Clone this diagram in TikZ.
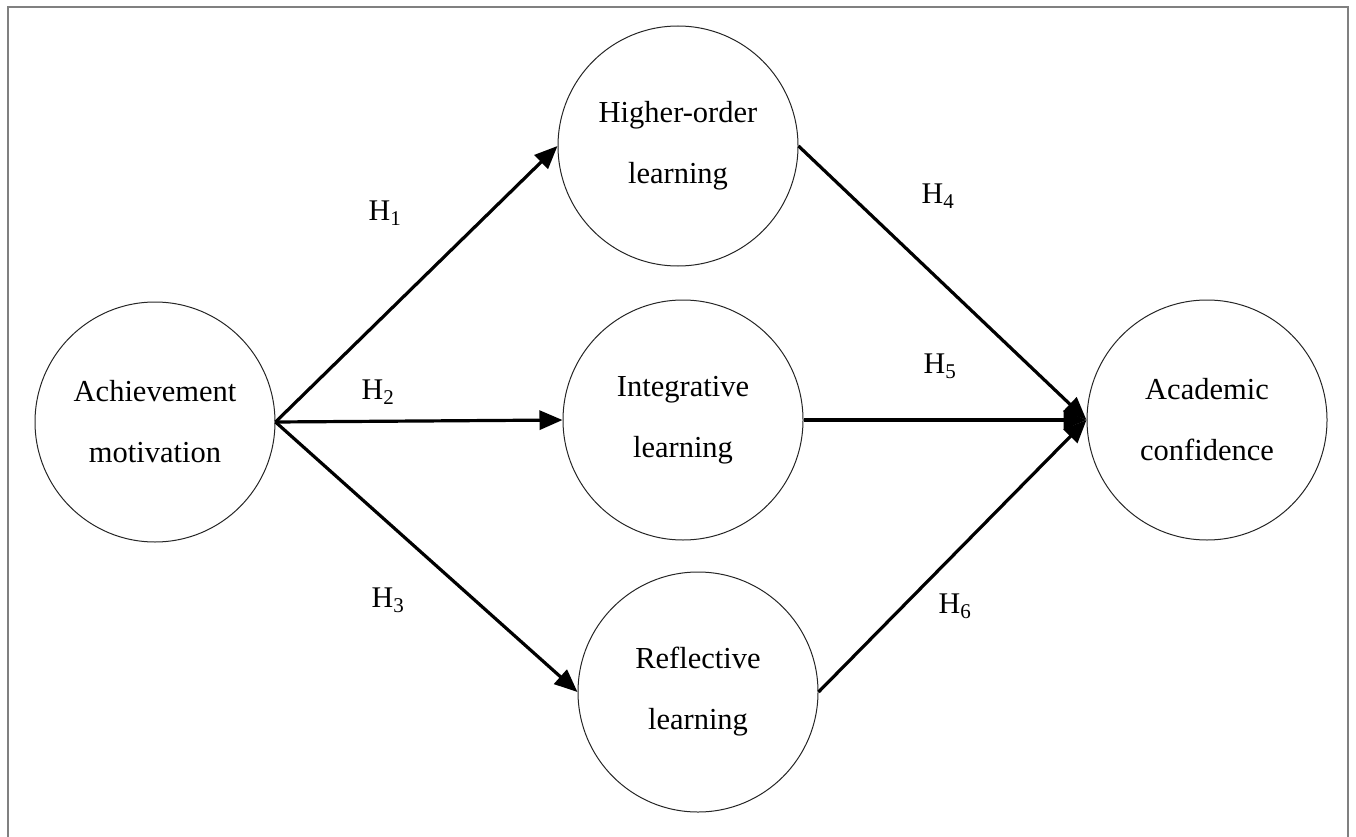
\documentclass[tikz,border=0pt]{standalone}
\usepackage{fontspec}
\setmainfont{Liberation Serif}
\usetikzlibrary{arrows.meta}
\begin{document}
\begin{tikzpicture}[x=1pt,y=-1pt,
  construct/.style={circle,draw=black!85,line width=1pt,minimum size=240pt,inner sep=0pt,align=center,font=\fontsize{30.5}{61}\selectfont},
  path/.style={line width=3.2pt,-{Triangle[length=23pt,width=19pt]}},
  hlabel/.style={font=\fontsize{30}{34}\selectfont,inner sep=0pt},
  frameline/.style={draw=black!50,line width=1.8pt}]
\useasboundingbox (0,0) rectangle (1356,837);
\coordinate (fbl) at (8,837);
\coordinate (ftl) at (8,7);
\coordinate (ftr) at (1348,7);
\coordinate (fbr) at (1348,837);
\draw[frameline] (fbl) -- (ftl) -- (ftr) -- (fbr);

\node[construct] (am) at (155,422) {Achievement\\motivation};
\node[construct] (hl) at (678,146) {Higher-order\\learning};
\node[construct] (il) at (683,420) {Integrative\\learning};
\node[construct] (rl) at (698,692) {Reflective\\learning};
\node[construct] (ac) at (1207,420) {Academic\\confidence};

\draw[path] (am.east) -- (hl.west);
\draw[path] (am.east) -- (il.west);
\draw[path] (am.east) -- (rl.west);
\draw[path] (hl.east) -- (ac.west);
\draw[path] (il.east) -- (ac.west);
\draw[path] (rl.east) -- (ac.west);

\node[hlabel] (h1) at (385,213) {H\textsubscript{1}};
\node[hlabel] (h2) at (378,392) {H\textsubscript{2}};
\node[hlabel] (h3) at (388,600) {H\textsubscript{3}};
\node[hlabel] (h4) at (938,196) {H\textsubscript{4}};
\node[hlabel] (h5) at (940,366) {H\textsubscript{5}};
\node[hlabel] (h6) at (955,606) {H\textsubscript{6}};
\end{tikzpicture}
\end{document}
